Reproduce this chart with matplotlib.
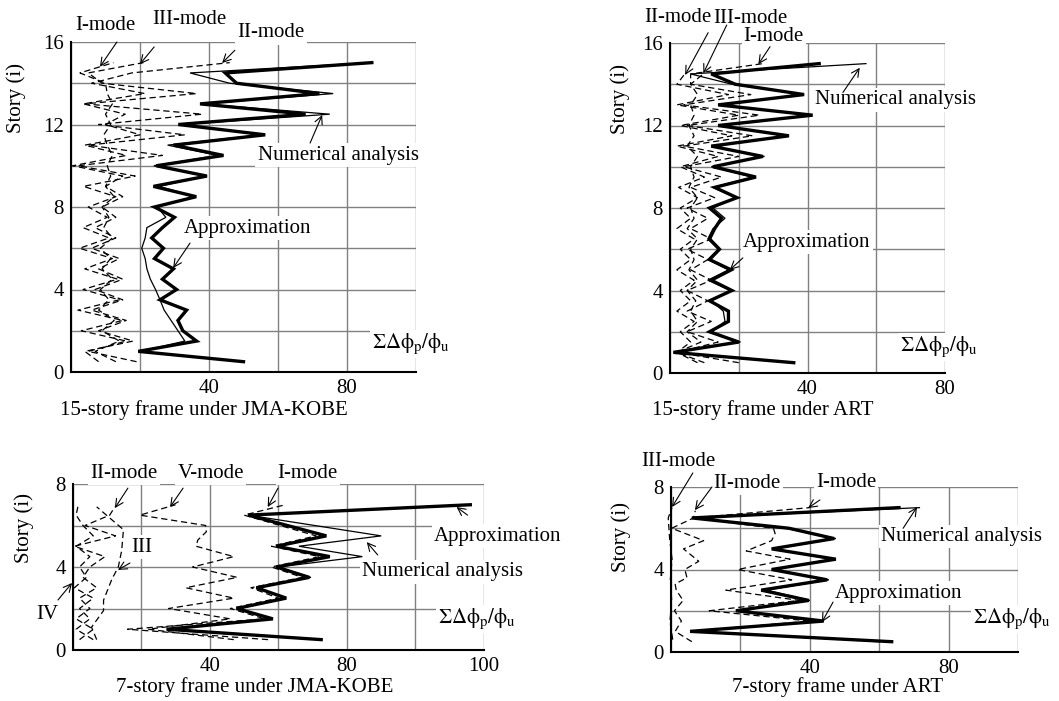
import matplotlib.pyplot as plt

plt.rcParams['font.family'] = ['Liberation Serif', 'DejaVu Serif']
plt.rcParams['mathtext.fontset'] = 'stix'

FS = 15
SUM_LABEL = r'$\mathrm{\Sigma\Delta\phi_p/\phi_u}$'

# ---- 15-story frame under JMA-KOBE ----
story15 = [0.5, 1.0, 1.5, 2.0, 2.5, 3.0, 3.5, 4.0, 4.5, 5.0, 5.5, 6.0, 6.5, 7.0, 7.5,
           8.0, 8.5, 9.0, 9.5, 10.0, 10.5, 11.0, 11.5, 12.0, 12.5, 13.0, 13.5, 14.0, 14.5, 15.0]
kobe15_approx = [50, 19.5, 36.4, 32.4, 31, 33.5, 25.8, 30.6, 26.5, 29.7, 24.2, 26.8, 23.4, 26.5, 30,
                 24.2, 36.3, 23.9, 39.4, 24.7, 44.2, 29.7, 56.3, 31.1, 68, 37.4, 72, 48, 44.7, 87.2]
kobe15_numer = [50, 20, 33, 31, 29, 27, 25.8, 24.5, 23, 22, 21.5, 20.5, 21.5, 22, 27.5,
                25, 36, 25.5, 39, 24, 42.5, 28, 55, 32, 75, 38, 76, 46, 34.5, 87.2]
kobe15_mode1 = [13, 7, 14, 9, 12.5, 8, 11, 8.5, 12, 9, 11.5, 8.5, 12, 9.5, 11,
                9, 12.5, 10, 11.5, 10.5, 12, 10.5, 9.5, 11.5, 10, 12, 10.5, 10, 2.6, 12.3]
kobe15_mode2 = [8, 4, 18, 8, 16, 6, 15, 7, 15, 8, 14, 6, 13, 7, 13,
                9, 15, 10, 15, 0.5, 16, 4, 20, 10, 15.7, 3.6, 21.4, 6, 17.6, 46]
kobe15_mode3 = [19, 5, 16, 3, 15, 2, 14, 3.5, 13.5, 4, 12, 2.5, 11, 3.5, 10.5,
                5, 13, 3.6, 18.6, 2, 26.5, 5, 33, 8, 38, 4, 36.4, 9, 5, 21]

# ---- 15-story frame under ART ----
art15_approx = [36, 1, 20, 11.5, 17, 17, 11.5, 18, 12, 17.8, 11.5, 14.4, 11.5, 13, 15,
                11.5, 19.5, 13, 25, 12.5, 27, 12, 34.6, 14, 41.5, 14, 39, 19, 12, 43.4]
art15_numer = [36, 1, 20.5, 12, 16, 15.5, 12, 17.5, 11, 17, 11, 14, 11, 12.5, 16,
               12.5, 19, 12.5, 24, 12, 27.5, 12.5, 34, 14.5, 41, 14.5, 39, 18, 6, 57]
art15_mode1 = [20, 2, 14, 5, 12, 5, 11, 5, 12, 6, 11, 5, 12, 6, 11,
               5, 13, 6, 15, 4, 20, 4, 24, 5, 26, 4, 23.5, 6, 6, 27]
art15_mode2 = [8, 2, 6, 3, 7, 2, 6, 3, 7, 2, 6, 3, 7, 2, 6,
               3, 8, 2.5, 10, 3, 14, 2, 18, 3, 20, 2, 17, 2, 4.3]
art15_mode3 = [10, 2, 9, 5, 8, 6, 7.5, 5, 8, 5.5, 7, 6, 8, 5, 7,
               6, 8, 5.5, 7, 6, 8, 5, 7, 5.5, 7, 6, 8, 6, 9.7]

# ---- 7-story frame under JMA-KOBE ----
story7_k = [0.5, 1.0, 1.5, 2.0, 2.5, 3.0, 3.5, 4.0, 4.5, 5.0, 5.5, 6.5, 7.0]
kobe7_approx = [72.5, 27.4, 58.4, 47.8, 62.3, 53.6, 69, 59.4, 75, 59.4, 74, 51.2, 116]
kobe7_numer = [72.5, 27.4, 58, 48.5, 62, 54, 69.5, 60, 84.5, 66, 90, 51.2, 116]
kobe7_mode1 = [57, 16, 56, 46, 60, 52, 67, 58, 72, 58, 71, 50, 62]
story7_v = [0.5, 1.0, 1.5, 2.0, 2.5, 3.0, 3.5, 4.0, 4.5, 5.0, 5.3, 5.7, 6.0, 6.5, 7.0]
kobe7_mode5 = [47, 22, 46, 28, 47, 33, 48, 35, 47, 36, 36.5, 39, 38.8, 19.6, 30]
story7_iii = [0.5, 1.1, 1.9, 2.4, 3.4, 4.0, 4.8, 5.8, 6.9]
kobe7_mode3 = [7, 5.5, 9, 9, 11.4, 13.3, 14.3, 14.8, 7]
story7_b = [0.5, 1.0, 1.5, 2.0, 2.5, 3.0, 3.5, 4.0, 4.5, 5.0, 5.5, 6.0, 6.5, 6.9]
kobe7_mode2 = [2, 6, 1, 5, 2, 7, 3, 5, 9.4, 0.5, 12.5, 3.6, 10.8, 12.3]
kobe7_mode4 = [6, 1, 5, 2, 6, 0.5, 4, 2, 5, 1, 6, 3, 1, 1.5]

# ---- 7-story frame under ART ----
story7 = [0.5, 1.0, 1.5, 2.0, 2.5, 3.0, 3.5, 4.0, 4.5, 5.0, 5.5, 6.0, 6.5, 7.0]
art7_approx = [63.6, 5.5, 44, 18.7, 39.7, 26, 45, 29, 47.5, 29, 47, 34, 6, 65.7]
art7_numer = [63.6, 5.5, 44, 19, 40, 27.5, 45.5, 30, 46, 30, 47.5, 33, 6, 71.6]
story7_i4 = [0.5, 1.0, 1.5, 2.0, 2.5, 3.0, 3.5, 4.0, 4.5, 4.9, 5.4, 5.75, 6.0, 6.5, 7.0]
art7_mode1 = [60, 5.5, 40, 11, 37, 15.8, 34.8, 19.2, 34.3, 21.7, 29, 30, 29.5, 6.5, 40]
story7_ii4 = [0.5, 1.0, 1.5, 2.0, 2.5, 3.0, 3.3, 3.6, 4.0, 4.4, 5.0, 5.4, 6.0, 6.5, 6.85]
art7_mode2 = [6, 1.2, 3, 1, 3.5, 1.5, 1.2, 4.6, 4, 8, 3.6, 9.4, 0.2, 6.5, 7]
story7_iii4 = [0.6, 1.5, 2.5, 3.5, 4.5, 5.5, 6.0, 6.5, 7.0]
art7_mode3 = [0.5, -0.3, 0.2, -0.2, 0.3, -0.4, -0.6, -0.8, 0.3]


def setup_axes(ax, xmax, xlabels, ymax, ylabels, ylab_pos):
    ax.set_xlim(0, xmax)
    ax.set_ylim(0, ymax)
    ax.set_xticks(range(0, xmax + 1, 20))
    ax.set_xticklabels(xlabels)
    ax.set_yticks(range(0, ymax + 1, 2))
    ax.set_yticklabels(ylabels)
    ax.grid(True, color='#808080', lw=1.0)
    ax.set_axisbelow(True)
    for s in ['top', 'right']:
        ax.spines[s].set_visible(False)
    for s in ['left', 'bottom']:
        ax.spines[s].set_linewidth(1.5)
    ax.tick_params(length=0, labelsize=FS, pad=5)
    ax.set_ylabel('Story (i)', fontsize=FS)
    ax.yaxis.set_label_coords(*ylab_pos)


def solid(ax, x, y, lw):
    ax.plot(x, y, color='black', lw=lw, solid_joinstyle='miter', clip_on=False, zorder=3)


def dashed(ax, x, y):
    ax.plot(x, y, color='black', lw=0.9, dashes=(5, 3), clip_on=False, zorder=3)


def label(ax, text, pos, tail, tip):
    ax.text(pos[0], pos[1], text, ha='center', va='center', fontsize=FS, zorder=6,
            clip_on=False, bbox=dict(facecolor='white', edgecolor='none', pad=1.5))
    ax.annotate('', xy=tip, xytext=tail, annotation_clip=False, zorder=7,
                arrowprops=dict(arrowstyle='->', lw=0.8, color='black',
                                shrinkA=0, shrinkB=0, mutation_scale=14))


def extra_text(ax, x, y, title_x, title_y, title):
    ax.text(x, y, SUM_LABEL, ha='left', va='center', fontsize=FS, zorder=6, clip_on=False,
            bbox=dict(facecolor='white', edgecolor='none', pad=1))
    ax.text(title_x, title_y, title, ha='center', va='center', fontsize=FS, clip_on=False)


W, H = 1059, 701
fig = plt.figure(figsize=(W / 100, H / 100), dpi=100)


def rect(left, right, top, bottom):
    return [left / W, 1 - bottom / H, (right - left) / W, (bottom - top) / H]


ylab16 = ['0', '', '4', '', '8', '', '12', '', '16']
ylab8 = ['0', '', '4', '', '8']

# panel 1
ax1 = fig.add_axes(rect(71, 416, 42, 372))
setup_axes(ax1, 100, ['', '', '40', '', '80', ''], 16, ylab16, (-0.13, 0.83))
dashed(ax1, kobe15_mode1, story15)
dashed(ax1, kobe15_mode2, story15)
dashed(ax1, kobe15_mode3, story15)
solid(ax1, kobe15_approx, story15, 2.4)
solid(ax1, kobe15_numer, story15, 0.9)
label(ax1, 'I-mode', (10.1, 16.8), (13.3, 16.0), (8.4, 14.8))
label(ax1, 'III-mode', (34.2, 17.07), (24.1, 15.76), (20, 14.93))
label(ax1, 'II-mode', (58, 16.44), (47.5, 15.6), (43.8, 14.98))
label(ax1, 'Numerical analysis', (77.4, 10.52), (69.3, 11.1), (72.8, 12.46))
label(ax1, 'Approximation', (51.3, 6.98), (34.5, 6.25), (29.6, 5.04))
extra_text(ax1, 87.2, 1.36, 38.6, -1.84, '15-story frame under JMA-KOBE')

# panel 2
ax2 = fig.add_axes(rect(670, 945, 43, 373))
setup_axes(ax2, 80, ['', '', '40', '', '80'], 16, ylab16, (-0.145, 0.83))
dashed(ax2, art15_mode1, story15)
dashed(ax2, art15_mode2, story15[:29])
dashed(ax2, art15_mode3, story15[:29])
solid(ax2, art15_approx, story15, 2.4)
solid(ax2, art15_numer, story15, 0.9)
label(ax2, 'II-mode', (2.3, 17.26), (11.1, 16.5), (4.4, 14.45))
label(ax2, 'III-mode', (23.5, 17.2), (16.5, 16.87), (9.7, 14.53))
label(ax2, 'I-mode', (30.2, 16.3), (29.1, 15.82), (25.7, 14.97))
label(ax2, 'Numerical analysis', (65.7, 13.24), (50.3, 13.6), (55.2, 14.8))
label(ax2, 'Approximation', (39.8, 6.35), (21.2, 5.58), (17.4, 5.0))
extra_text(ax2, 66.9, 1.26, 27, -1.8, '15-story frame under ART')

# panel 3
ax3 = fig.add_axes(rect(72.7, 484, 484, 650))
setup_axes(ax3, 120, ['', '', '40', '', '80', '', '100'], 8, ylab8, (-0.094, 0.735))
dashed(ax3, kobe7_mode1, story7_k)
dashed(ax3, kobe7_mode5, story7_v)
dashed(ax3, kobe7_mode3, story7_iii)
dashed(ax3, kobe7_mode2, story7_b)
dashed(ax3, kobe7_mode4, story7_b)
solid(ax3, kobe7_approx, story7_k, 2.4)
solid(ax3, kobe7_numer, story7_k, 0.9)
label(ax3, 'II-mode', (15, 8.53), (16.1, 7.8), (12.3, 6.84))
label(ax3, 'V-mode', (40.3, 8.53), (32.2, 7.8), (28.4, 6.89))
label(ax3, 'I-mode', (68.6, 8.53), (59.9, 7.8), (56.9, 6.89))
label(ax3, 'III', (20.2, 4.96), (16.7, 4.19), (13.2, 3.86))
label(ax3, 'IV', (-7.5, 1.73), (-4.3, 2.41), (-0.2, 3.23))
label(ax3, 'Approximation', (124, 5.49), (115.2, 6.5), (112, 6.89))
label(ax3, 'Numerical analysis', (108, 3.76), (89, 4.58), (85.8, 5.2))
extra_text(ax3, 106.5, 1.49, 53.2, -1.78, '7-story frame under JMA-KOBE')

# panel 4
ax4 = fig.add_axes(rect(671, 1018, 487, 652))
setup_axes(ax4, 100, ['', '', '40', '', '80', ''], 8, ylab8, (-0.115, 0.70))
dashed(ax4, art7_mode1, story7_i4)
dashed(ax4, art7_mode2, story7_ii4)
dashed(ax4, art7_mode3, story7_iii4)
solid(ax4, art7_approx, story7, 2.4)
solid(ax4, art7_numer, story7, 0.9)
label(ax4, 'III-mode', (2, 9.26), (6.3, 8.68), (0.3, 7.03))
label(ax4, 'II-mode', (21.9, 8.19), (11.8, 8.0), (6.9, 6.88))
label(ax4, 'I-mode', (50.4, 8.24), (42.9, 7.37), (39.5, 6.98))
label(ax4, 'Numerical analysis', (83.6, 5.58), (66.9, 6.0), (70.9, 7.03))
label(ax4, 'Approximation', (65.7, 2.86), (46.7, 2.42), (43.5, 1.45))
extra_text(ax4, 87, 1.6, 48.1, -1.7, '7-story frame under ART')

fig.savefig('out.png', dpi=100)
